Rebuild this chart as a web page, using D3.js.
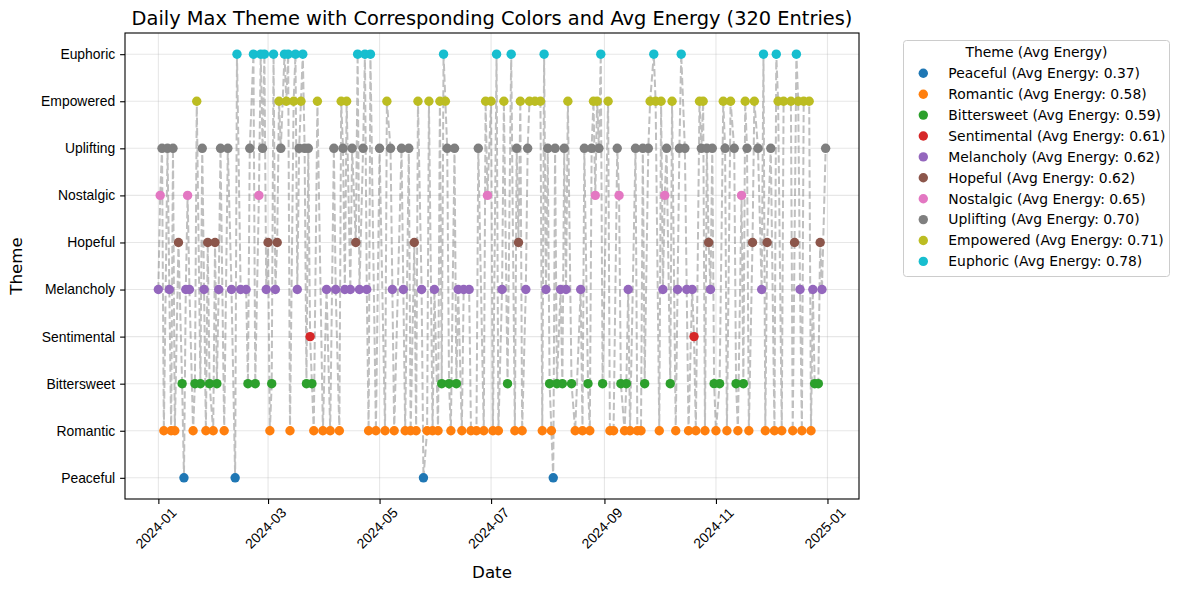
<!DOCTYPE html>
<html>
<head>
<meta charset="utf-8">
<script src="https://cdn.jsdelivr.net/npm/d3@7"></script>
<style>
  body { margin: 0; background: #fff; }
  svg { font-family: "DejaVu Sans", sans-serif; }
</style>
</head>
<body>
<svg id="chart" width="1180" height="590"></svg>
<script>
// themes ordered by average energy (bottom -> top of the y axis)
const themes = ["Peaceful", "Romantic", "Bittersweet", "Sentimental", "Melancholy",
                "Hopeful", "Nostalgic", "Uplifting", "Empowered", "Euphoric"];
const avgEnergy = [0.37, 0.58, 0.59, 0.61, 0.62, 0.62, 0.65, 0.70, 0.71, 0.78];
const palette = ["#1f77b4", "#ff7f0e", "#2ca02c", "#d62728", "#9467bd",
                 "#8c564b", "#e377c2", "#7f7f7f", "#bcbd22", "#17becf"];

const xTickDates = ["2024-01-01", "2024-03-01", "2024-05-01", "2024-07-01",
                    "2024-09-01", "2024-11-01", "2025-01-01"];

// days since 2024-01-01, and the max theme (index into themes) on that day
const dayOffsets = [
  0, 1, 2, 3, 5, 6, 7, 8, 9, 11, 13, 14, 15, 16, 17, 19, 20, 21, 23, 24,
  25, 26, 27, 28, 30, 31, 32, 33, 34, 36, 38, 40, 42, 43, 45, 48, 49, 50, 52, 53,
  55, 56, 57, 58, 59, 60, 61, 62, 63, 64, 65, 66, 67, 69, 70, 71, 72, 74, 75, 76,
  77, 78, 79, 80, 81, 82, 83, 84, 85, 87, 90, 92, 94, 96, 97, 99, 100, 101, 102, 103,
  105, 106, 108, 109, 110, 112, 113, 114, 115, 116, 119, 121, 124, 125, 127, 128, 129, 133, 134, 135,
  137, 138, 140, 141, 142, 144, 145, 147, 148, 150, 151, 153, 154, 155, 156, 157, 158, 159, 160, 162,
  163, 164, 166, 167, 170, 171, 174, 175, 178, 179, 180, 182, 183, 185, 186, 188, 189, 191, 193, 195,
  196, 197, 198, 199, 201, 202, 203, 206, 209, 210, 211, 212, 213, 214, 215, 216, 217, 218, 220, 221,
  222, 223, 224, 226, 228, 231, 232, 233, 235, 236, 237, 238, 239, 240, 241, 242, 243, 246, 247, 249,
  251, 252, 253, 255, 256, 257, 258, 261, 262, 264, 265, 266, 268, 269, 271, 272, 274, 275, 276, 277,
  278, 280, 281, 283, 284, 285, 286, 288, 289, 290, 292, 293, 294, 296, 297, 298, 299, 300, 301, 302,
  303, 304, 305, 307, 309, 310, 311, 313, 315, 316, 317, 319, 320, 321, 322, 323, 325, 326, 328, 330,
  331, 332, 333, 335, 337, 338, 339, 341, 342, 346, 347, 348, 349, 350, 351, 352, 353, 356, 357, 358,
  359, 361, 362, 363, 365
];
const dailyTheme = [
  4, 6, 7, 1, 7, 4, 1, 7, 1, 5, 2, 0, 4, 6, 4, 1, 2, 8, 2, 7,
  4, 1, 5, 2, 1, 5, 2, 4, 7, 1, 7, 4, 0, 9, 4, 4, 2, 7, 9, 2,
  6, 9, 7, 9, 4, 5, 1, 2, 9, 4, 5, 8, 7, 9, 8, 9, 1, 8, 9, 4,
  7, 8, 9, 7, 2, 7, 3, 2, 1, 8, 1, 4, 1, 7, 4, 1, 8, 7, 4, 8,
  4, 7, 5, 9, 4, 7, 9, 4, 1, 9, 1, 7, 1, 8, 7, 4, 1, 7, 4, 1,
  7, 1, 5, 1, 8, 4, 0, 1, 8, 1, 4, 1, 8, 2, 9, 8, 7, 2, 1, 7,
  2, 4, 1, 4, 4, 1, 1, 7, 1, 8, 6, 8, 1, 9, 1, 4, 8, 2, 9, 1,
  7, 5, 8, 1, 4, 7, 8, 8, 8, 1, 9, 4, 7, 2, 1, 0, 7, 2, 4, 2,
  7, 4, 8, 2, 1, 4, 1, 7, 2, 1, 7, 8, 6, 8, 7, 9, 2, 8, 1, 1,
  7, 6, 2, 1, 2, 4, 1, 7, 1, 1, 7, 2, 7, 8, 9, 8, 1, 8, 4, 6,
  7, 2, 8, 1, 4, 7, 9, 7, 4, 1, 4, 3, 1, 8, 7, 8, 1, 7, 5, 4,
  7, 2, 1, 2, 8, 7, 1, 8, 7, 2, 1, 6, 2, 8, 7, 1, 5, 8, 7, 4,
  9, 1, 5, 7, 1, 9, 8, 1, 8, 8, 1, 5, 9, 8, 4, 1, 8, 8, 1, 4,
  2, 2, 5, 4, 7
];

const startDate = new Date(2024, 0, 1);
const data = dayOffsets.map((d, i) => ({
  date: d3.timeDay.offset(startDate, d),
  theme: dailyTheme[i]
}));

const svg = d3.select("#chart"),
    margin = {top: 33, right: 321, bottom: 91, left: 125},
    width = +svg.attr("width") - margin.left - margin.right,
    height = +svg.attr("height") - margin.top - margin.bottom,
    g = svg.append("g").attr("transform", "translate(" + margin.left + "," + margin.top + ")");

// matplotlib style 5% padding on both axes
const first = data[0].date, last = data[data.length - 1].date;
const pad = (last - first) * 0.05;
const x = d3.scaleTime()
    .domain([new Date(+first - pad), new Date(+last + pad)])
    .range([0, width]);

const y = d3.scaleLinear()
    .domain([-0.45, themes.length - 1 + 0.45])
    .range([height, 0]);

const tickDates = xTickDates.map(d3.timeParse("%Y-%m-%d"));

// grid
g.append("g")
    .selectAll("line")
    .data(tickDates)
    .join("line")
    .attr("x1", d => x(d)).attr("x2", d => x(d))
    .attr("y1", 0).attr("y2", height)
    .attr("stroke", "#b0b0b0").attr("stroke-opacity", 0.3).attr("stroke-width", 1.1);

g.append("g")
    .selectAll("line")
    .data(d3.range(themes.length))
    .join("line")
    .attr("x1", 0).attr("x2", width)
    .attr("y1", d => y(d)).attr("y2", d => y(d))
    .attr("stroke", "#b0b0b0").attr("stroke-opacity", 0.3).attr("stroke-width", 1.1);

// dashed connector
const line = d3.line()
    .x(d => x(d.date))
    .y(d => y(d.theme));

g.append("path")
    .datum(data)
    .attr("fill", "none")
    .attr("stroke", "#808080")
    .attr("stroke-opacity", 0.5)
    .attr("stroke-width", 2)
    .attr("stroke-dasharray", "7.4,3.2")
    .attr("d", line);

// markers
g.append("g")
    .selectAll("circle")
    .data(data)
    .join("circle")
    .attr("cx", d => x(d.date))
    .attr("cy", d => y(d.theme))
    .attr("r", 4.7)
    .attr("fill", d => palette[d.theme]);

// axes
const xAxis = g.append("g")
    .attr("transform", "translate(0," + height + ")")
    .call(d3.axisBottom(x).tickValues(tickDates).tickFormat(d3.timeFormat("%Y-%m"))
      .tickSize(4.9).tickPadding(4.9));
xAxis.select(".domain").remove();
xAxis.selectAll("line").attr("stroke", "#000").attr("stroke-width", 1.1);
xAxis.selectAll("text")
    .attr("font-size", "13.9px")
    .attr("fill", "#000")
    .attr("text-anchor", "middle")
    .attr("dy", null)
    .attr("y", null)
    .attr("dominant-baseline", "central")
    .attr("transform", "translate(-3,29) rotate(-45)");

const yAxis = g.append("g")
    .call(d3.axisLeft(y).tickValues(d3.range(themes.length)).tickFormat(i => themes[i])
      .tickSize(4.9).tickPadding(4.9));
yAxis.select(".domain").remove();
yAxis.selectAll("line").attr("stroke", "#000").attr("stroke-width", 1.1);
yAxis.selectAll("text").attr("font-size", "13.9px").attr("fill", "#000");

// frame
g.append("rect")
    .attr("width", width).attr("height", height)
    .attr("fill", "none").attr("stroke", "#000").attr("stroke-width", 1.1);

// labels
svg.append("text")
    .attr("x", margin.left + width / 2).attr("y", 25)
    .attr("text-anchor", "middle")
    .attr("font-size", "19.4px")
    .text("Daily Max Theme with Corresponding Colors and Avg Energy (" + 320 + " Entries)");

svg.append("text")
    .attr("x", margin.left + width / 2).attr("y", 578)
    .attr("text-anchor", "middle")
    .attr("font-size", "16.7px")
    .text("Date");

svg.append("text")
    .attr("transform", "translate(22," + (margin.top + height / 2) + ") rotate(-90)")
    .attr("text-anchor", "middle")
    .attr("font-size", "16.7px")
    .text("Theme");

// legend
const legend = svg.append("g").attr("transform", "translate(903.5,40.5)");
legend.append("rect")
    .attr("width", 266).attr("height", 236).attr("rx", 3)
    .attr("fill", "#fff").attr("fill-opacity", 0.8)
    .attr("stroke", "#cccccc").attr("stroke-width", 1);
legend.append("text")
    .attr("x", 133).attr("y", 16.5)
    .attr("text-anchor", "middle")
    .attr("font-size", "13.9px")
    .text("Theme (Avg Energy)");

const item = legend.selectAll(".legendItem")
    .data(themes)
    .join("g")
    .attr("class", "legendItem")
    .attr("transform", (d, i) => "translate(0," + (32.8 + i * 20.9) + ")");
item.append("circle")
    .attr("cx", 19.8).attr("r", 4.7)
    .attr("fill", (d, i) => palette[i]);
item.append("text")
    .attr("x", 44.8)
    .attr("dy", "0.35em")
    .attr("font-size", "13.9px")
    .text((d, i) => d + " (Avg Energy: " + avgEnergy[i].toFixed(2) + ")");
</script>
</body>
</html>
